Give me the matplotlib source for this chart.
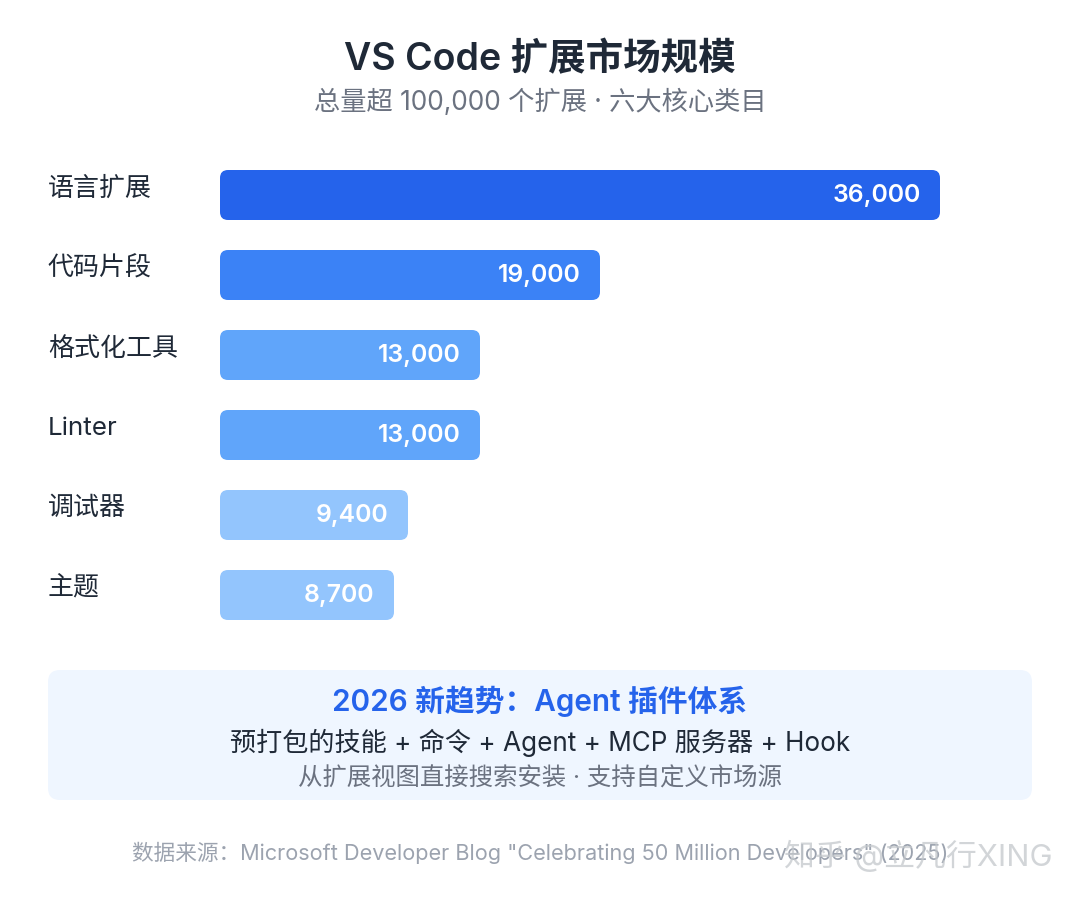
import matplotlib
matplotlib.use('Agg')
import matplotlib.pyplot as plt
from matplotlib.patches import FancyBboxPatch

plt.rcParams['font.family'] = ['Inter', 'Noto Sans CJK SC', 'DejaVu Sans']

# データ
categories = ['语言扩展', '代码片段', '格式化工具', 'Linter', '调试器', '主题']
values = [36000, 19000, 13000, 13000, 9400, 8700]
value_labels = ['36,000', '19,000', '13,000', '13,000', '9,400', '8,700']
bar_colors = ['#2563eb', '#3b82f6', '#60a5fa', '#60a5fa', '#93c5fd', '#93c5fd']

title = 'VS Code 扩展市场规模'
subtitle = '总量超 100,000 个扩展 · 六大核心类目'
box_title = '2026 新趋势：Agent 插件体系'
box_line1 = '预打包的技能 + 命令 + Agent + MCP 服务器 + Hook'
box_line2 = '从扩展视图直接搜索安装 · 支持自定义市场源'
source = '数据来源：Microsoft Developer Blog "Celebrating 50 Million Developers" (2025)'
watermark = '知乎 @立凡行XING'

fig = plt.figure(figsize=(10.8, 9), dpi=100, facecolor='white')

# 全体のオーバーレイ（ピクセル座標）
bg = fig.add_axes([0, 0, 1, 1])
bg.set_xlim(0, 1080)
bg.set_ylim(900, 0)
bg.axis('off')

# バーの軸: x は 220px が 0、20px が 1000、y は 80px が 1 行
ax = fig.add_axes([220 / 1080, 1 - 635 / 900, 800 / 1080, 480 / 900])
ax.set_xlim(0, 40000)
ax.set_ylim(5.5, -0.5)
ax.axis('off')
ax.patch.set_alpha(0)

px_x = 40000 / 800
px_y = 1 / 80
bar_h = 50 * px_y
for i, (v, c) in enumerate(zip(values, bar_colors)):
    ax.add_patch(FancyBboxPatch((0, i - bar_h / 2), v, bar_h,
                                boxstyle=f'round,pad=0,rounding_size={8 * px_x}',
                                mutation_aspect=px_y / px_x,
                                facecolor=c, edgecolor='none', linewidth=0))
    ax.text(v - px_x * 19.5, i + 0.5 * px_y, value_labels[i], color='white', fontsize=17.8,
            fontweight='semibold', ha='right', va='center')
    bg.text(48, 188.5 + i * 80, categories[i], color='#1f2937', fontsize=18.7, ha='left', va='center')

bg.text(540, 60, title, color='#1f2937', fontsize=27, fontweight='semibold', ha='center', va='center')
bg.text(540, 102, subtitle, color='#6b7280', fontsize=18.9, ha='center', va='center')

bg.add_patch(FancyBboxPatch((60, 682), 960, 106, boxstyle='round,pad=12',
                            facecolor='#eff6ff', edgecolor='none'))
bg.text(540, 701, box_title, color='#2563eb', fontsize=21.4, fontweight='semibold', ha='center', va='center')
bg.text(540, 743, box_line1, color='#1f2937', fontsize=18.8, ha='center', va='center')
bg.text(540, 778.5, box_line2, color='#6b7280', fontsize=17.6, ha='center', va='center')
bg.text(540, 853, source, color='#9ca3af', fontsize=15.6, ha='center', va='center')
bg.text(1052, 856, watermark, color='#c4c8cc', alpha=0.75, fontsize=22.2, ha='right', va='center')

fig.savefig('out.png', dpi=100, facecolor='white')
